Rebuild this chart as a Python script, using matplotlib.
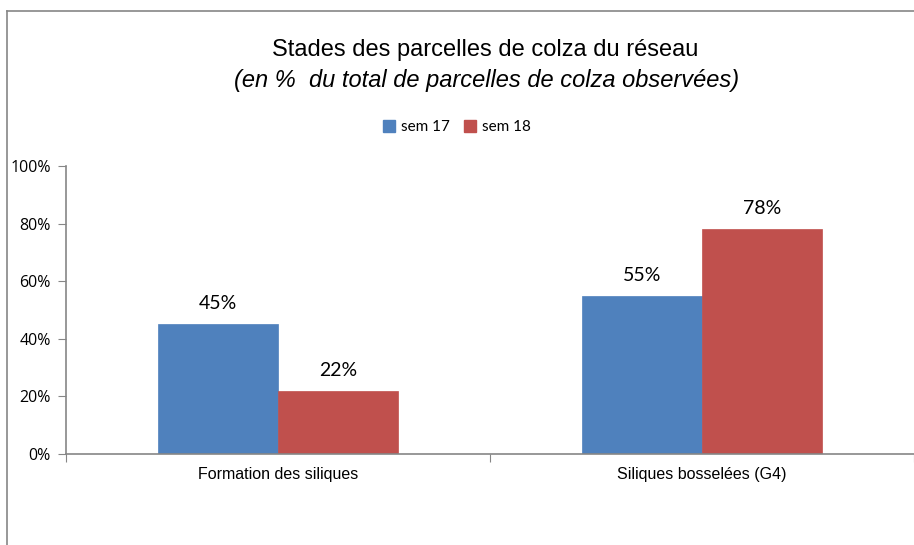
import matplotlib
matplotlib.use("Agg")
import matplotlib.pyplot as plt
from matplotlib.lines import Line2D
from matplotlib.patches import Patch
import numpy as np

categories = ["Formation des siliques", "Siliques bosselées (G4)"]
sem17 = [45, 55]
sem18 = [22, 78]
series_names = ["sem 17", "sem 18"]
yticks = [0, 20, 40, 60, 80, 100]

blue = "#4F81BD"
red = "#C0504D"
gray = "#868686"
narrow = ["Liberation Sans Narrow", "Liberation Sans", "DejaVu Sans"]

W, H = 914, 545
fig = plt.figure(figsize=(W / 100, H / 100), dpi=100)
# axes: left 66px, right 914px, bottom y=454, top y=166
ax = fig.add_axes([66 / W, 1 - 454 / H, (914 - 66) / W, (454 - 166) / H])

x = np.arange(len(categories))
bw = 120 / 424
ax.bar(x - bw / 2, sem17, bw, color=blue, edgecolor=blue, linewidth=0.5)
ax.bar(x + bw / 2, sem18, bw, color=red, edgecolor=red, linewidth=0.5)

for xi, v in zip(x - bw / 2, sem17):
    ax.text(xi, v + 4.2, f"{v}%", ha="center", va="bottom", fontsize=14, family=["Lato", "DejaVu Sans"])
for xi, v in zip(x + bw / 2, sem18):
    ax.text(xi, v + 4.2, f"{v}%", ha="center", va="bottom", fontsize=14, family=["Lato", "DejaVu Sans"])

ax.set_xlim(-0.5, 1.5)
ax.set_ylim(0, 100)
ax.set_yticks(yticks)
ax.set_yticklabels([f"{t}%" for t in yticks], fontsize=11.5, family=["Open Sans", "DejaVu Sans"])
ax.set_xticks([-0.5, 0.5, 1.5])
ax.set_xticklabels([])
ax.set_xticks(x, minor=True)
ax.set_xticklabels(categories, minor=True, fontsize=11.5, family=narrow)
ax.tick_params(axis="x", which="minor", length=0, pad=9)
ax.tick_params(axis="x", which="major", length=6, color=gray, direction="out")
ax.tick_params(axis="y", length=6, color=gray, pad=5)

for s in ["top", "right"]:
    ax.spines[s].set_visible(False)
for s in ["left", "bottom"]:
    ax.spines[s].set_color(gray)
    ax.spines[s].set_linewidth(1.2)

fig.text(485 / W, 1 - 50 / H, "Stades des parcelles de colza du réseau",
         ha="center", va="center", fontsize=17, family=narrow)
fig.text(487 / W, 1 - 81 / H, "(en %  du total de parcelles de colza observées)",
         ha="center", va="center", fontsize=17, style="italic", family=narrow)

handles = [Patch(color=blue), Patch(color=red)]
fig.legend(handles, series_names, loc="center", bbox_to_anchor=(457 / W, 1 - 127 / H),
           ncol=2, frameon=False, handlelength=0.8, handleheight=0.8,
           handletextpad=0.4, columnspacing=0.9, prop={"family": ["Lato", "DejaVu Sans"], "size": 11})

# chart-area border (top and left visible)
fig.add_artist(Line2D([7 / W, 7 / W], [0, 1 - 11 / H], color=gray, lw=1.2, transform=fig.transFigure))
fig.add_artist(Line2D([7 / W, 1], [1 - 11 / H, 1 - 11 / H], color=gray, lw=1.2, transform=fig.transFigure))

fig.savefig("out.png", dpi=100)
